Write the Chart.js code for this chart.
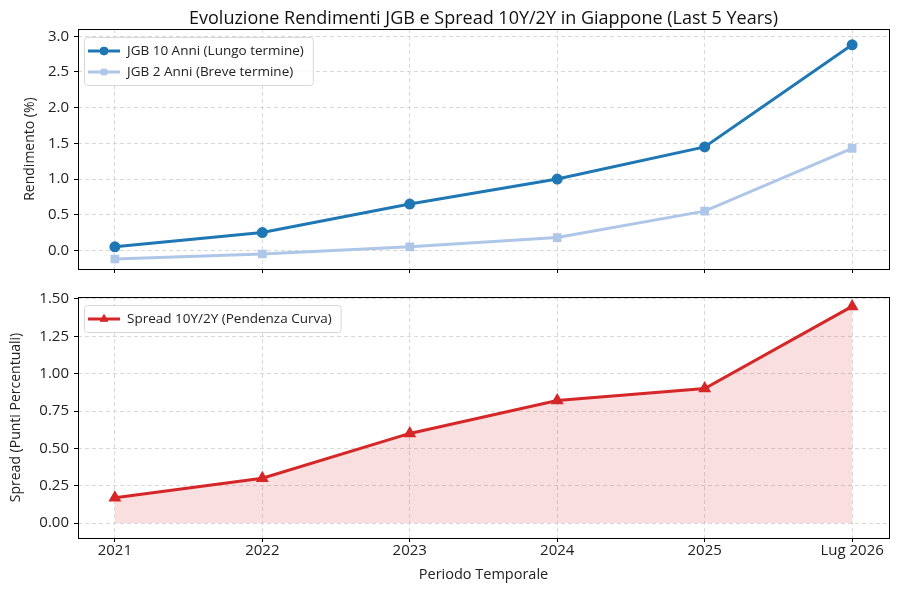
<!DOCTYPE html>
<html>
<head>
<meta charset="utf-8">
<script src="https://cdn.jsdelivr.net/npm/chart.js@4"></script>
<style>
  body { margin: 0; background: #fff; }
  #wrap { position: relative; width: 897px; height: 590px; }
  #top, #bottom { position: absolute; left: 0; }
  #top { top: 0; }
  #bottom { top: 283px; }
</style>
</head>
<body>
<div id="wrap">
  <div id="top" style="width:897px;height:283px"><canvas id="chartTop"></canvas></div>
  <div id="bottom" style="width:897px;height:307px"><canvas id="chartBottom"></canvas></div>
</div>
<script>
const periodi = ['2021', '2022', '2023', '2024', '2025', 'Lug 2026'];
const jgb10 = [0.05, 0.25, 0.65, 1.00, 1.45, 2.88];
const jgb2 = [-0.12, -0.05, 0.05, 0.18, 0.55, 1.43];
const spread = [0.17, 0.30, 0.60, 0.82, 0.90, 1.45];

const FONT = '"Open Sans", "DejaVu Sans", sans-serif';
Chart.defaults.font.family = FONT;
Chart.defaults.color = '#222';

function pts(arr) {
  return arr.map((v, i) => ({ x: i, y: v }));
}

// box round the plot + legend in the upper left, like matplotlib
const boxLegend = {
  id: 'boxLegend',
  afterDraw(chart) {
    const ctx = chart.ctx;
    const a = chart.chartArea;
    ctx.save();
    ctx.strokeStyle = '#000';
    ctx.lineWidth = 1;
    ctx.strokeRect(Math.round(a.left) + 0.5, Math.round(a.top) + 0.5,
      Math.round(a.right - a.left), Math.round(a.bottom - a.top));

    const sets = chart.data.datasets;
    ctx.font = '13.5px ' + FONT;
    let w = 0;
    sets.forEach(d => { w = Math.max(w, ctx.measureText(d.label).width); });
    const x0 = Math.round(a.left) + 6, y0 = Math.round(a.top) + 8;
    const rowH = 21;
    const boxW = w + 52, boxH = sets.length * rowH + 6;
    ctx.fillStyle = 'rgba(255,255,255,0.85)';
    ctx.strokeStyle = '#d8d8d8';
    ctx.lineWidth = 1;
    ctx.beginPath();
    ctx.roundRect(x0 + 0.5, y0 + 0.5, boxW, boxH, 3);
    ctx.fill();
    ctx.stroke();

    sets.forEach((d, i) => {
      const cy = y0 + 3 + rowH / 2 + i * rowH + 0.5;
      ctx.strokeStyle = d.borderColor;
      ctx.lineWidth = d.borderWidth;
      ctx.beginPath();
      ctx.moveTo(x0 + 4, cy);
      ctx.lineTo(x0 + 36, cy);
      ctx.stroke();
      ctx.fillStyle = d.borderColor;
      ctx.strokeStyle = d.borderColor;
      ctx.lineWidth = 1;
      Chart.helpers.drawPoint(ctx, {
        pointStyle: d.pointStyle, radius: d.pointRadius, borderWidth: 1
      }, x0 + 20, cy);
      ctx.fillStyle = '#222';
      ctx.textBaseline = 'middle';
      ctx.fillText(d.label, x0 + 43, cy);
    });
    ctx.restore();
  }
};

const gridOpts = {
  color: '#cfcfcf',
  lineWidth: 0.8,
  tickBorderDash: [],
  tickColor: '#000',
  tickLength: 4,
  tickWidth: 1
};
const borderOpts = { display: false, dash: [4, 3] };

function xScale(showLabels, height) {
  return {
    type: 'linear',
    min: -0.25,
    max: 5.25,
    grid: gridOpts,
    border: borderOpts,
    afterBuildTicks: s => { s.ticks = periodi.map((p, i) => ({ value: i })); },
    ticks: {
      font: { size: 15 },
      padding: 0,
      callback: v => showLabels ? periodi[v] : ''
    },
    title: showLabels ? { display: true, text: 'Periodo Temporale', font: { size: 14.5 }, padding: { top: 0 } } : { display: false },
    afterFit: s => { s.height = height; }
  };
}

new Chart(document.getElementById('chartTop'), {
  type: 'line',
  data: {
    datasets: [
      {
        label: 'JGB 10 Anni (Lungo termine)',
        data: pts(jgb10),
        borderColor: '#1f77b4',
        backgroundColor: '#1f77b4',
        borderWidth: 3,
        pointStyle: 'circle',
        pointRadius: 4,
        pointHoverRadius: 4
      },
      {
        label: 'JGB 2 Anni (Breve termine)',
        data: pts(jgb2),
        borderColor: '#aec7e8',
        backgroundColor: '#aec7e8',
        borderWidth: 3,
        pointStyle: 'rect',
        pointRadius: 4,
        pointHoverRadius: 4
      }
    ]
  },
  options: {
    responsive: true,
    maintainAspectRatio: false,
    animation: false,
    layout: { padding: { left: 18, right: 8, top: 0, bottom: 0 } },
    plugins: {
      legend: { display: false },
      tooltip: { enabled: false },
      title: {
        display: true,
        fullSize: false,
        text: 'Evoluzione Rendimenti JGB e Spread 10Y/2Y in Giappone (Last 5 Years)',
        color: '#111',
        font: { size: 18, weight: 'normal' },
        padding: { top: 8.5, bottom: -1 }
      }
    },
    scales: {
      x: xScale(false, 13),
      y: {
        min: -0.26,
        max: 3.10,
        grid: gridOpts,
        border: borderOpts,
        ticks: {
          stepSize: 0.5,
          includeBounds: false,
          font: { size: 15 },
          padding: 5,
          callback: v => v.toFixed(1)
        },
        title: { display: true, text: 'Rendimento (%)', font: { size: 14 }, padding: { bottom: 2 } },
        afterFit: s => { s.width = 60; }
      }
    }
  },
  plugins: [boxLegend]
});

new Chart(document.getElementById('chartBottom'), {
  type: 'line',
  data: {
    datasets: [
      {
        label: 'Spread 10Y/2Y (Pendenza Curva)',
        data: pts(spread),
        borderColor: '#d62728',
        backgroundColor: 'rgba(214,39,40,0.15)',
        pointBackgroundColor: '#d62728',
        borderWidth: 3,
        pointStyle: 'triangle',
        pointRadius: 4.5,
        pointHoverRadius: 4.5,
        fill: 'origin'
      }
    ]
  },
  options: {
    responsive: true,
    maintainAspectRatio: false,
    animation: false,
    layout: { padding: { left: 4, right: 8, top: 13, bottom: 2 } },
    plugins: {
      legend: { display: false },
      tooltip: { enabled: false }
    },
    scales: {
      x: xScale(true, 50),
      y: {
        min: -0.10,
        max: 1.513,
        grid: gridOpts,
        border: borderOpts,
        ticks: {
          stepSize: 0.25,
          includeBounds: false,
          font: { size: 15 },
          padding: 5,
          callback: v => v.toFixed(2)
        },
        title: { display: true, text: 'Spread (Punti Percentuali)', font: { size: 14 }, padding: { bottom: 2 } },
        afterFit: s => { s.width = 74; }
      }
    }
  },
  plugins: [boxLegend]
});
</script>
</body>
</html>
